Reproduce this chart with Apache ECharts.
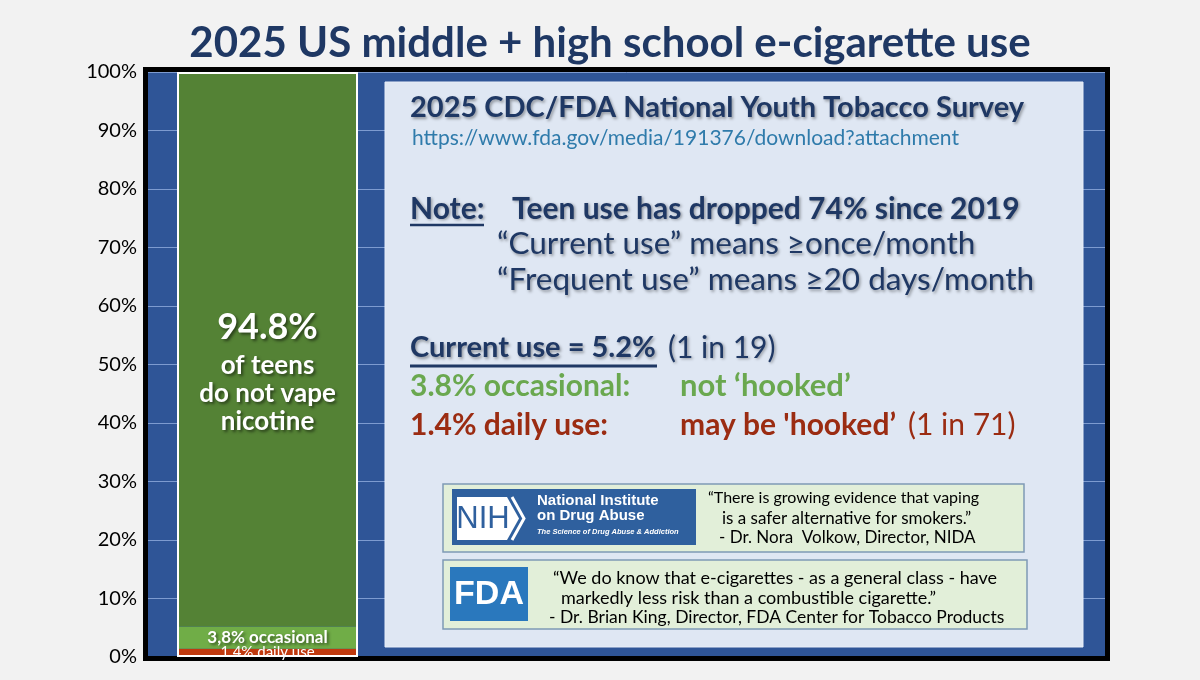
<!DOCTYPE html>
<html>
<head>
<meta charset="utf-8">
<script src="https://cdn.jsdelivr.net/npm/echarts@6/dist/echarts.min.js"></script>
<style>
  html, body { margin: 0; padding: 0; background: #f2f2f2; }
  #chart { width: 1200px; height: 680px; }
</style>
</head>
<body>
<div id="chart"></div>
<script>
// data
const categories = ['US middle + high school students'];
const dailyUse = [1.4];
const occasionalUse = [3.8];
const nonUsers = [94.8];
const yMin = 0;
const yMax = 100;
const yStep = 10;

const NAVY = '#1f3864';
const GREEN = '#6aa84f';
const RED = '#9b2c12';
const FONT = 'Lato, "Open Sans", sans-serif';
const SANS = '"Liberation Sans", Arial, sans-serif';

const chart = echarts.init(document.getElementById('chart'), null, { renderer: 'canvas' });

const totals = categories.map((c, i) => dailyUse[i] + occasionalUse[i] + nonUsers[i]);

const shadow = { textShadowColor: 'rgba(0,0,0,0.35)', textShadowBlur: 3, textShadowOffsetX: 1.5, textShadowOffsetY: 1.5 };
const labelShadow = { textShadowColor: 'rgba(0,0,0,0.5)', textShadowBlur: 3, textShadowOffsetX: 2, textShadowOffsetY: 2 };

function txt(x, y, text, font, fill, extra) {
    return {
        type: 'text', x: x, y: y, z: 100,
        style: Object.assign({
            text: text, font: font, fill: fill,
            textAlign: 'left', textVerticalAlign: 'middle'
        }, extra || {})
    };
}
function line(x1, y1, x2, y2, color, w) {
    return {
        type: 'line', z: 100,
        shape: { x1: x1, y1: y1, x2: x2, y2: y2 },
        style: { stroke: color, lineWidth: w }
    };
}

const graphics = [
    // black frame round the plot
    { type: 'rect', z: 1, shape: { x: 145.5, y: 69.5, width: 962, height: 589 },
      style: { fill: null, stroke: '#000', lineWidth: 5 } },
    // note panel
    { type: 'rect', z: 90, shape: { x: 385, y: 82, width: 698, height: 565 },
      style: { fill: '#dfe7f3', stroke: '#e8eef8', lineWidth: 1 } },

    txt(410, 108, '2025 CDC/FDA National Youth Tobacco Survey', 'bold 29px ' + FONT, NAVY, shadow),
    txt(412, 138, 'https://www.fda.gov/media/191376/download?attachment', '21px ' + FONT, '#2f7bab'),

    txt(410, 209, 'Note:', 'bold 30px ' + FONT, NAVY, shadow),
    line(410, 225, 484, 225, NAVY, 2.5),
    txt(512, 209, 'Teen use has dropped 74% since 2019', 'bold 30px ' + FONT, NAVY, shadow),
    txt(497, 244, '\u201cCurrent use\u201d means \u2265once/month', '31.5px ' + FONT, NAVY, shadow),
    txt(497, 280, '\u201cFrequent use\u201d means \u226520 days/month', '31.5px ' + FONT, NAVY, shadow),

    txt(410, 348, 'Current use = 5.2%', 'bold 29px ' + FONT, NAVY, shadow),
    line(410, 366, 657, 366, NAVY, 3),
    txt(668, 348, '(1 in 19)', '30px ' + FONT, NAVY, shadow),
    txt(410, 386, '3.8% occasional:', 'bold 30px ' + FONT, GREEN),
    txt(680, 386, 'not \u2018hooked\u2019', 'bold 31px ' + FONT, GREEN),
    txt(410, 425, '1.4% daily use:', 'bold 30px ' + FONT, RED),
    txt(680, 425, 'may be \'hooked\u2019', 'bold 30px ' + FONT, RED),
    txt(908, 425, '(1 in 71)', '30px ' + FONT, RED),

    // NIDA quote box
    { type: 'rect', z: 95, shape: { x: 443, y: 484, width: 581, height: 68 },
      style: { fill: '#e2efd9', stroke: '#7f9bb5', lineWidth: 1.5 } },
    { type: 'rect', z: 96, shape: { x: 452, y: 489, width: 244, height: 56 },
      style: { fill: '#2f609e' } },
    { type: 'polygon', z: 97, shape: { points: [[457, 497], [507, 497], [519, 518.5], [507, 540], [457, 540]] },
      style: { fill: '#fff' } },
    { type: 'polyline', z: 97, shape: { points: [[512, 497], [524, 518.5], [512, 540]] },
      style: { stroke: '#fff', lineWidth: 3, fill: null } },
    txt(483, 519, 'NIH', '31px ' + SANS, '#2f609e', { textAlign: 'center' }),
    txt(537, 501, 'National Institute', 'bold 15px ' + SANS, '#fff'),
    txt(537, 516, 'on Drug Abuse', 'bold 15px ' + SANS, '#fff'),
    txt(537, 532, 'The Science of Drug Abuse & Addiction', 'italic bold 7.5px ' + SANS, '#fff'),
    txt(708, 498, '\u201cThere is growing evidence that vaping', '16px ' + FONT, '#000'),
    txt(722, 519, 'is a safer alternative for smokers.\u201d', '17px ' + FONT, '#000'),
    txt(719, 538, '- Dr. Nora  Volkow, Director, NIDA', '17px ' + FONT, '#000'),

    // FDA quote box
    { type: 'rect', z: 95, shape: { x: 443, y: 560, width: 584, height: 69 },
      style: { fill: '#e2efd9', stroke: '#7f9bb5', lineWidth: 1.5 } },
    { type: 'rect', z: 96, shape: { x: 450, y: 567, width: 78, height: 54 },
      style: { fill: '#2a78bd' } },
    txt(489, 595, 'FDA', 'bold 34px ' + SANS, '#fff', { textAlign: 'center' }),
    txt(553, 578, '\u201cWe do know that e-cigarettes - as a general class - have', '18px ' + FONT, '#000'),
    txt(561, 598, 'markedly less risk than a combustible cigarette.\u201d', '18px ' + FONT, '#000'),
    txt(549, 617, '- Dr. Brian King, Director, FDA Center for Tobacco Products', '17.5px ' + FONT, '#000')
];

const option = {
    backgroundColor: '#f2f2f2',
    animation: false,
    title: {
        text: '2025 US middle + high school e-cigarette use',
        left: 605, top: 17, textAlign: 'center',
        textStyle: { fontFamily: FONT, fontWeight: 'bold', fontSize: 42, color: NAVY }
    },
    grid: [
        // whole plot area: blue fill, gridlines, y labels
        { left: 148, right: 95, top: 72, bottom: 23, show: true, backgroundColor: '#2f5597', borderWidth: 0 },
        // the bar's own slot
        { left: 177, width: 181, top: 72, bottom: 23 }
    ],
    xAxis: [
        { gridIndex: 0, type: 'category', data: categories, show: false },
        { gridIndex: 1, type: 'category', data: categories, show: false }
    ],
    yAxis: [
        {
            gridIndex: 0, type: 'value', min: yMin, max: yMax, interval: yStep,
            axisLine: { show: false }, axisTick: { show: false },
            axisLabel: { formatter: '{value}%', color: '#000', fontSize: 20, fontFamily: FONT, margin: 11 },
            splitLine: { lineStyle: { color: '#7d9bd0', width: 1 } }
        },
        { gridIndex: 1, type: 'value', min: yMin, max: yMax, show: false }
    ],
    series: [
        {
            name: '1.4% daily use', type: 'bar', stack: 'use', xAxisIndex: 1, yAxisIndex: 1, barWidth: '100%',
            data: dailyUse,
            itemStyle: { color: '#c0390e' },
            label: { show: true, position: 'inside', formatter: p => p.value.toFixed(1) + '% daily use',
                     color: '#fff', fontSize: 15, fontFamily: FONT, offset: [0, -1] }
        },
        {
            name: '3,8% occasional', type: 'bar', stack: 'use', xAxisIndex: 1, yAxisIndex: 1, barWidth: '100%',
            data: occasionalUse,
            itemStyle: { color: '#70ad47' },
            label: Object.assign({ show: true, position: 'inside',
                     formatter: p => p.value.toFixed(1).replace('.', ',') + '% occasional',
                     color: '#fff', fontSize: 17, fontWeight: 'bold', fontFamily: FONT }, labelShadow)
        },
        {
            name: 'do not vape', type: 'bar', stack: 'use', xAxisIndex: 1, yAxisIndex: 1, barWidth: '100%',
            data: nonUsers,
            itemStyle: { color: '#548235' },
            label: {
                show: true, position: 'inside', offset: [0, 20],
                formatter: p => '{big|' + p.value.toFixed(1) + '%}\n{small|of teens}\n{small|do not vape}\n{small|nicotine}',
                rich: {
                    big: Object.assign({ fontSize: 36, fontWeight: 'bold', color: '#fff', fontFamily: FONT, lineHeight: 48 }, labelShadow),
                    small: Object.assign({ fontSize: 26, fontWeight: 'bold', color: '#fff', fontFamily: FONT, lineHeight: 28 }, labelShadow)
                }
            }
        },
        {
            // white outline round the whole stack
            name: 'outline', type: 'bar', xAxisIndex: 1, yAxisIndex: 1, barWidth: '100%', barGap: '-100%',
            z: 3, silent: true,
            data: totals,
            itemStyle: { color: 'rgba(0,0,0,0)', borderColor: '#fff', borderWidth: 2 }
        }
    ],
    graphic: { elements: graphics }
};

chart.setOption(option);
</script>
</body>
</html>
